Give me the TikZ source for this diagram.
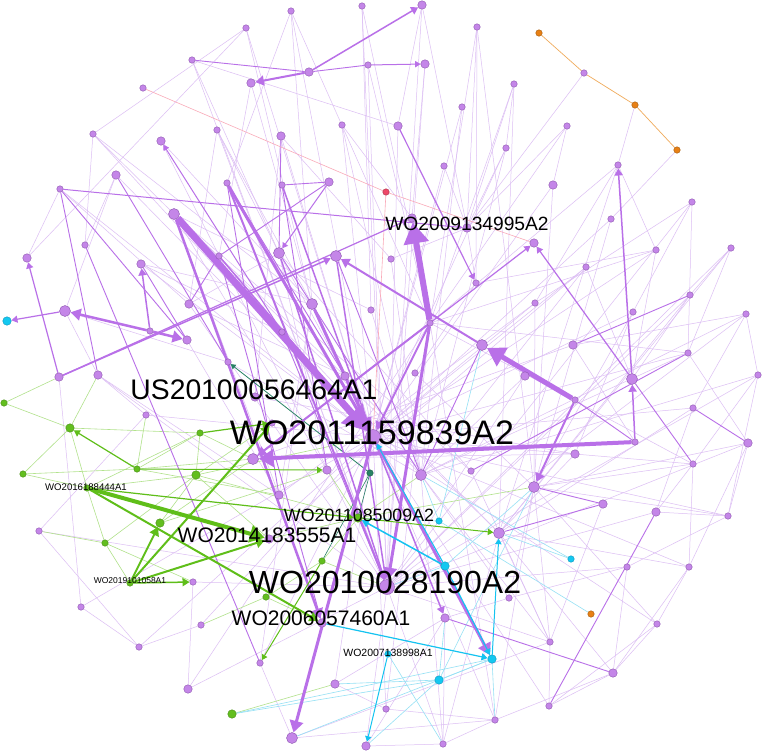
\documentclass[tikz,border=0pt]{standalone}
\usepackage{fontspec}
\newfontfamily\gephifont{Liberation Sans}
\usetikzlibrary{arrows.meta}
\definecolor{pfill}{RGB}{196,134,232}
\definecolor{pline}{RGB}{140,85,175}
\definecolor{gfill}{RGB}{98,190,30}
\definecolor{gline}{RGB}{70,140,20}
\definecolor{cfill}{RGB}{20,200,240}
\definecolor{cline}{RGB}{10,150,190}
\definecolor{ofill}{RGB}{232,128,20}
\definecolor{rfill}{RGB}{238,72,104}
\definecolor{tfill}{RGB}{40,130,100}
\definecolor{pedge}{RGB}{185,112,232}
\definecolor{pfaint}{RGB}{220,190,244}
\definecolor{gedge}{RGB}{95,190,25}
\definecolor{gfaint}{RGB}{178,226,140}
\definecolor{cedge}{RGB}{20,195,240}
\definecolor{cfaint}{RGB}{150,225,245}
\definecolor{oedge}{RGB}{240,170,90}
\definecolor{redge}{RGB}{250,170,185}
\pgfdeclarelayer{edges}
\pgfsetlayers{edges,main}
\tikzstyle{dot} = [circle, inner sep=0pt, line width=0.4pt]
\tikzstyle{pn} = [dot, fill=pfill, draw=pline]
\tikzstyle{gn} = [dot, fill=gfill, draw=gline]
\tikzstyle{cn} = [dot, fill=cfill, draw=cline]
\tikzstyle{on} = [dot, fill=ofill, draw=ofill!70!black]
\tikzstyle{rn} = [dot, fill=rfill, draw=rfill!70!black]
\tikzstyle{tn} = [dot, fill=tfill, draw=tfill!70!black]
\tikzstyle{sz1} = [minimum size=6.5pt]
\tikzstyle{sz2} = [minimum size=8.5pt]
\tikzstyle{sz3} = [minimum size=11pt]
\tikzstyle{sz4} = [minimum size=15pt]
\tikzstyle{faint} = [pfaint, line width=0.5pt]
\tikzstyle{mid} = [pedge, line width=0.9pt]
\tikzstyle{heavy} = [pedge, ->, >=Triangle]
\tikzstyle{gheavy} = [gedge, ->, >=Triangle]
\tikzstyle{cheavy} = [cedge, ->, >=Triangle]
\tikzstyle{tag} = [inner sep=0pt, text=black]
\begin{document}
\begin{tikzpicture}[x=1pt, y=-1pt]
    \useasboundingbox (0,0) rectangle (764,753);
    % purple nodes
    \node[pn,sz1] (p1) at (291,11) {}; \node[pn,sz1] (p2) at (362,6) {}; \node[pn,sz1] (p3) at (246,28) {};
    \node[pn,sz1] (p4) at (192,60) {}; \node[pn,sz2] (p5) at (309,72) {}; \node[pn,sz1] (p6) at (368,65) {};
    \node[pn,sz2] (p7) at (251,83) {}; \node[pn,sz1] (p8) at (143,88) {}; \node[pn,sz1] (p9) at (93,134) {};
    \node[pn,sz2] (p10) at (161,141) {}; \node[pn,sz1] (p11) at (217,130) {}; \node[pn,sz2] (p12) at (281,136) {};
    \node[pn,sz1] (p13) at (342,125) {}; \node[pn,sz2] (p14) at (116,175) {}; \node[pn,sz1] (p15) at (60,189) {};
    \node[pn,sz1] (p16) at (227,183) {}; \node[pn,sz1] (p17) at (282,185) {}; \node[pn,sz2] (p18) at (329,182) {};
    \node[pn,sz3] (p19) at (174,214) {}; \node[pn,sz1] (p20) at (85,245) {}; \node[pn,sz2] (p21) at (27,258) {};
    \node[pn,sz2] (p22) at (141,264) {}; \node[pn,sz1] (p23) at (219,256) {}; \node[pn,sz3] (p24) at (279,253) {};
    \node[pn,sz3] (p25) at (336,256) {}; \node[pn,sz3] (p26) at (65,311) {}; \node[pn,sz2] (p27) at (189,304) {};
    \node[pn,sz3] (p28) at (312,304) {}; \node[pn,sz1] (p29) at (371,310) {}; \node[pn,sz1] (p30) at (150,331) {};
    \node[pn,sz2] (p31) at (187,340) {}; \node[pn,sz1] (p32) at (282,332) {}; \node[pn,sz1] (p33) at (228,362) {};
    \node[pn,sz2] (p34) at (59,377) {}; \node[pn,sz2] (p35) at (98,375) {}; \node[pn,sz2] (p36) at (422,5) {};
    \node[pn,sz1] (p37) at (477,27) {}; \node[pn,sz2] (p38) at (425,64) {}; \node[pn,sz1] (p39) at (514,84) {};
    \node[pn,sz1] (p40) at (462,107) {}; \node[pn,sz2] (p41) at (398,126) {}; \node[pn,sz1] (p42) at (567,126) {};
    \node[pn,sz1] (p43) at (506,148) {}; \node[pn,sz1] (p44) at (444,166) {}; \node[pn,sz1] (p45) at (618,165) {};
    \node[pn,sz2] (p46) at (553,185) {}; \node[pn,sz1] (p47) at (692,202) {}; \node[pn,sz1] (p48) at (611,219) {};
    \node[pn,sz2] (p49) at (412,218) {}; \node[pn,sz2] (p50) at (467,228) {}; \node[pn,sz2] (p51) at (534,243) {};
    \node[pn,sz1] (p52) at (391,259) {}; \node[pn,sz1] (p53) at (656,250) {}; \node[pn,sz1] (p54) at (731,248) {};
    \node[pn,sz1] (p55) at (586,267) {}; \node[pn,sz1] (p56) at (476,283) {}; \node[pn,sz1] (p57) at (535,303) {};
    \node[pn,sz1] (p58) at (690,295) {}; \node[pn,sz1] (p59) at (633,312) {}; \node[pn,sz1] (p60) at (746,314) {};
    \node[pn,sz1] (p61) at (430,323) {}; \node[pn,sz3] (p62) at (482,345) {}; \node[pn,sz2] (p63) at (573,345) {};
    \node[pn,sz1] (p64) at (688,353) {}; \node[pn,sz2] (p65) at (525,376) {}; \node[pn,sz3] (p66) at (632,379) {};
    \node[pn,sz1] (p67) at (758,375) {}; \node[pn,sz1] (p68) at (575,400) {}; \node[pn,sz1] (p69) at (693,408) {};
    \node[pn,sz1] (p70) at (635,442) {}; \node[pn,sz2] (p71) at (748,443) {}; \node[pn,sz2] (p72) at (575,454) {};
    \node[pn,sz1] (p73) at (693,464) {}; \node[pn,sz3] (p74) at (421,475) {}; \node[pn,sz1] (p75) at (471,471) {};
    \node[pn,sz3] (p76) at (534,487) {}; \node[pn,sz2] (p77) at (603,504) {}; \node[pn,sz2] (p78) at (656,512) {};
    \node[pn,sz1] (p79) at (728,516) {}; \node[pn,sz3] (p80) at (499,533) {}; \node[pn,sz1] (p81) at (627,567) {};
    \node[pn,sz1] (p82) at (689,567) {}; \node[pn,sz1] (p83) at (509,598) {}; \node[pn,sz2] (p84) at (445,618) {};
    \node[pn,sz1] (p85) at (657,624) {}; \node[pn,sz1] (p86) at (550,642) {}; \node[pn,sz2] (p87) at (613,673) {};
    \node[pn,sz1] (p88) at (386,709) {}; \node[pn,sz1] (p89) at (549,706) {}; \node[pn,sz1] (p90) at (495,720) {};
    \node[pn,sz1] (p91) at (443,744) {}; \node[pn,sz2] (p92) at (345,376) {}; \node[pn,sz1] (p93) at (415,373) {};
    \node[pn,sz1] (p94) at (272,423) {}; \node[pn,sz3] (p98) at (253,459) {}; \node[pn,sz2] (p99) at (327,470) {};
    \node[pn,sz2] (p100) at (279,495) {}; \node[pn,sz1] (p101) at (146,415) {}; \node[pn,sz1] (p103) at (39,531) {};
    \node[pn,sz1] (p104) at (193,582) {}; \node[pn,sz1] (p106) at (81,607) {}; \node[pn,sz1] (p107) at (201,625) {};
    \node[pn,sz1] (p109) at (139,647) {}; \node[pn,sz1] (p110) at (260,663) {}; \node[pn,sz2] (p111) at (335,684) {};
    \node[pn,sz2] (p112) at (188,689) {}; \node[pn,sz3] (p113) at (292,738) {}; \node[pn,sz2] (p114) at (366,746) {};
    \node[pn,sz1] (p115) at (584,73) {};
    \node[pn,sz2] (us464) at (255,397) {};
    \node[pn,sz4] (wo159) at (373,437) {};
    \node[pn,sz2] (wo555) at (269,539) {};
    \node[pn,sz4] (wo028) at (387,587) {};
    \node[pn,sz2] (wo460) at (322,623) {};
    % green nodes
    \node[gn,sz1] (g1) at (4,403) {}; \node[gn,sz2] (g2) at (70,428) {}; \node[gn,sz1] (g3) at (200,433) {};
    \node[gn,sz1] (g4) at (23,474) {}; \node[gn,sz1] (g5) at (137,469) {}; \node[gn,sz2] (g6) at (196,475) {};
    \node[gn,sz2] (g8) at (160,523) {}; \node[gn,sz1] (g9) at (105,543) {}; \node[gn,sz1] (g11) at (322,561) {};
    \node[gn,sz1] (g13) at (266,597) {}; \node[gn,sz2] (g14) at (232,714) {};
    \node[gn,sz1] (wo444) at (87,488) {};
    \node[gn,sz2] (wo009) at (358,518) {};
    \node[gn,sz1] (wo058) at (130,583) {};
    % cyan, orange, red, teal nodes
    \node[cn,sz2] (c1) at (7,321) {}; \node[cn,sz1] (c2) at (439,521) {}; \node[cn,sz2] (c3) at (445,566) {};
    \node[cn,sz1] (c4) at (571,559) {}; \node[cn,sz2] (c5) at (492,659) {}; \node[cn,sz2] (c7) at (439,680) {};
    \node[cn,sz1] (wo998) at (388,654) {};
    \node[on,sz1] (o1) at (539,33) {}; \node[on,sz1] (o2) at (635,105) {};
    \node[on,sz1] (o3) at (677,150) {}; \node[on,sz1] (o4) at (591,614) {};
    \node[rn,sz1] (r1) at (386,192) {};
    \node[tn,sz1] (t1) at (370,473) {};

    \begin{pgfonlayer}{edges}
    \fill[white] (0,0) rectangle (764,753);
    % faint citations
    \foreach \a/\b in {wo159/p1, wo159/p3, wo159/p12, wo159/p13, wo159/p40, wo159/p44, wo159/p43,
        wo159/p46, wo159/p48, wo159/p53, wo159/p55, wo159/p57, wo159/p59, wo159/p64, wo159/p69,
        wo159/p73, wo159/p79, wo159/p82, wo159/p85, wo159/p89, wo159/p90, wo159/p88, wo159/p111,
        wo159/p110, wo159/p107, wo159/p106, wo159/p109, wo159/p101, wo159/p22, wo159/p14, wo159/p15,
        wo159/p9, wo028/p2, wo028/p6, wo028/p36, wo028/p38, wo028/p41, wo028/p47, wo028/p54,
        wo028/p58, wo028/p60, wo028/p67, wo028/p71, wo028/p78, wo028/p81, wo028/p86, wo028/p91,
        wo028/p114, wo028/p112, wo028/p104, wo028/p103, wo028/p35, wo028/p27, wo028/p11, wo028/p10,
        wo028/p4, p61/p1, p61/p2, p61/p6, p61/p37, p61/p39, p61/p42, p61/p45, p61/p53, p61/p64,
        p61/p73, p61/p88, p61/p90, p61/p112, p74/p13, p74/p40, p74/p43, p74/p55, p74/p60, p74/p64,
        p74/p67, p74/p83, p74/p86, p74/p91, p76/p37, p76/p46, p76/p48, p76/p57, p76/p59, p76/p71,
        p76/p73, p76/p79, p76/p85, p76/p86, p76/p90, p76/p83, p80/p39, p80/p45, p80/p54, p80/p58,
        p80/p69, p80/p82, p80/p87, p80/p91, p80/p86, p28/p1, p28/p3, p28/p7, p28/p11, p28/p9,
        p28/p22, p28/p10, p28/p100, p28/p110, p24/p4, p24/p11, p24/p27, p24/p92, p24/p99, p24/p75,
        p19/p99, p19/p74, p19/p100, p19/p92, p19/p29, p19/p80, p19/p75, p19/p9, p50/p37, p50/p39,
        p50/p42, p50/p43, p50/p44, p50/p36, p50/p56, p50/p52, p21/p3, p21/p15, p20/p14, p14/p26,
        p26/p35, p109/p106, p112/p104, p107/p109, p111/p88, p114/p91, p113/p90, p113/p86, p88/p90,
        p110/p113, p67/p73, p60/p63, p47/p64, p53/p56, p45/p57, p3/p9, p4/p41, p15/p27, p34/p106,
        p101/p35, p101/p103, p103/p109, p82/p85, p81/p87, p85/p87, p73/p82, p79/p78, p71/p79,
        p64/p71, p67/p79, p60/p69, p54/p58, p47/p59, p45/p53, p42/p46, p39/p43, p38/p49, p1/p16,
        p2/p29, p36/p41, p37/p56, p12/p52, p13/p49, p11/p27, p7/p23, p9/p20, p26/p33, p22/p32,
        p27/p92, p33/p74, p35/p100, p31/p100, p92/p80, p93/p76, p93/p56, p29/p74, p52/p74, p75/p86,
        p83/p84, p84/p91, p84/p114, p111/p84, p87/p89, p86/p89, p90/p91, o3/p48, o2/p45, p115/p50,
        p65/p74, p72/p80, p72/p98, p63/p98, p65/wo028, p57/p100, p55/wo555, us464/p12, us464/p72,
        p53/p66, p55/p66, p59/p72, p63/p70, p47/p57, p54/p64, p60/p67, p58/p66, p69/p78, p73/p78,
        p71/p82, p79/p81, p85/p89, p82/p87, p81/p83, p77/p86, p87/p90}
        \draw[faint] (\a) -- (\b);
    \foreach \a/\b in {g1/g2, g1/p34, g2/wo444, g2/g4, g4/g5, g4/wo444, wo444/g9, g9/g6, g9/p103,
        g5/g3, g3/g6, g6/wo009, g6/wo555, wo444/g6, g8/g6, wo444/g3, g2/p35, g6/wo159, wo058/g9,
        g13/wo460, g13/g11, g11/wo009, wo009/p74, g14/p111, g3/p98, g5/p98, g8/p98, g9/p104, g2/g3,
        g6/p94, wo555/wo009, g13/p107, g11/wo028, wo009/p76, wo009/p99, g5/p100, p101/g5, g8/p99}
        \draw[gfaint, line width=0.6pt] (\a) -- (\b);
    \foreach \a/\b in {c2/wo009, c2/p74, c3/wo159, c3/p76, c4/p74, o4/c2, c5/p113, c7/c5, c7/p111,
        g14/c5, c7/p76, c3/wo028, c7/p84, c4/p80, c5/p90, c7/p114, wo998/p91, c2/p62, g14/c7}
        \draw[cfaint, line width=0.6pt] (\a) -- (\b);
    \foreach \a/\b in {p4/p5, p5/p6, p15/p35, p15/p31, p18/p23, p18/p17, p69/p71, p66/p73, p70/p68,
        p58/p63, p78/p89, p84/p87, p76/p77, p77/p80, p17/p99, p16/p100, p24/p74, p12/p24, p25/p74,
        p62/p74, p14/p33, p20/p110, p22/p31, p27/p23, p32/wo028, p23/wo460, p64/p75, p16/p92}
        \draw[mid] (\a) -- (\b);
    \draw[redge, line width=0.6pt] (p8) -- (r1);
    \draw[redge, line width=0.6pt] (r1) -- (p51);
    \draw[redge, line width=0.6pt] (r1) -- (wo159);
    \draw[oedge, line width=0.7pt] (o1) -- (p115) -- (o2) -- (o3);
    \draw[tfill, line width=0.8pt, ->, >=Triangle] (t1) -- (p33);
    \draw[tfill, line width=0.6pt] (t1) -- (g11);
    \draw[tfill, line width=0.6pt] (t1) -- (wo009);
    % strong citations
    \draw[heavy, line width=7pt] (p19) -- (wo159);
    \draw[heavy, line width=6pt] (p61) -- (p49);
    \draw[heavy, line width=5pt] (p68) -- (p62);
    \draw[heavy, line width=4pt] (p70) -- (p98);
    \draw[heavy, line width=3pt] (p16) -- (wo159);
    \draw[heavy, line width=3pt] (p28) -- (wo159);
    \draw[heavy, line width=3pt] (wo159) -- (p113);
    \draw[heavy, line width=3pt] (wo159) -- (c5);
    \draw[heavy, line width=3pt] (p61) -- (wo028);
    \draw[heavy, line width=2.5pt] (p19) -- (wo460);
    \draw[heavy, line width=2.5pt] (p30) -- (p26);
    \draw[heavy, line width=2.5pt] (p30) -- (p31);
    \draw[heavy, line width=2pt] (p62) -- (p25);
    \draw[heavy, line width=2pt] (p61) -- (p98);
    \draw[heavy, line width=2pt] (p16) -- (wo028);
    \draw[heavy, line width=2pt] (p68) -- (p76);
    \draw[heavy, line width=2pt] (p5) -- (p7);
    \draw[heavy, line width=2pt] (p61) -- (wo159);
    \draw[heavy, line width=1.5pt] (p5) -- (p36);
    \draw[heavy, line width=1.5pt] (p34) -- (p25);
    \draw[heavy, line width=1.5pt] (p30) -- (p22);
    \draw[heavy, line width=1.5pt] (p70) -- (p66);
    \draw[heavy, line width=1.5pt] (p66) -- (p45);
    \draw[heavy, line width=1.5pt] (p23) -- (wo159);
    \draw[heavy, line width=1.5pt] (p17) -- (wo159);
    \draw[heavy, line width=1.5pt] (p24) -- (wo028);
    \draw[heavy, line width=1.5pt] (p25) -- (wo028);
    \draw[heavy, line width=1.5pt] (wo159) -- (p84);
    \draw[heavy, line width=1.2pt] (p34) -- (p49);
    \draw[heavy, line width=1.2pt] (p34) -- (p21);
    \draw[heavy, line width=1.2pt] (p26) -- (c1);
    \draw[heavy, line width=1.2pt] (p66) -- (p51);
    \draw[heavy, line width=1.2pt] (p98) -- (p51);
    \draw[heavy, line width=1.2pt] (p41) -- (p56);
    \draw[heavy, line width=1pt] (p6) -- (p38);
    \draw[heavy, line width=1pt] (p15) -- (p50);
    \draw[heavy, line width=1pt] (p18) -- (p24);
    \draw[heavy, line width=1pt] (p32) -- (p10);
    % green citations
    \draw[gheavy, line width=4pt] (wo444) -- (wo555);
    \draw[gheavy, line width=2pt] (wo444) -- (wo460);
    \draw[gheavy, line width=1.2pt] (wo444) -- (wo009);
    \draw[gheavy, line width=2pt] (wo058) -- (g8);
    \draw[gheavy, line width=2pt] (wo058) -- (wo555);
    \draw[gheavy, line width=2pt] (wo058) -- (p94);
    \draw[gheavy, line width=1.5pt] (wo058) -- (p104);
    \draw[gheavy, line width=1.2pt] (g5) -- (g2);
    \draw[gheavy, line width=1pt] (g5) -- (p99);
    \draw[gheavy, line width=1.2pt] (g3) -- (p94);
    \draw[gheavy, line width=1pt] (g11) -- (p110);
    \draw[gheavy, line width=1pt] (wo009) -- (p80);
    % cyan citations
    \draw[cheavy, line width=1.5pt] (c3) -- (wo009);
    \draw[cheavy, line width=1.2pt] (c3) -- (c5);
    \draw[cheavy, line width=1.2pt] (wo460) -- (c5);
    \draw[cheavy, line width=1pt] (wo998) -- (p114);
    \draw[cheavy, line width=1pt] (c5) -- (p80);
    \draw[cheavy, line width=1pt] (c3) -- (wo159);
    \end{pgfonlayer}

    % patent labels
    \node[tag, font=\gephifont\fontsize{34}{34}\selectfont] (t159) at (372,433) {WO2011159839A2};
    \node[tag, font=\gephifont\fontsize{32}{32}\selectfont] (t028) at (385,582) {WO2010028190A2};
    \node[tag, font=\gephifont\fontsize{28.3}{28}\selectfont] (t464) at (254,390) {US20100056464A1};
    \node[tag, font=\gephifont\fontsize{21}{21}\selectfont] (t555) at (267,535) {WO2014183555A1};
    \node[tag, font=\gephifont\fontsize{21}{21}\selectfont] (t460) at (321,618) {WO2006057460A1};
    \node[tag, font=\gephifont\fontsize{19.2}{19}\selectfont] (t995) at (467,224) {WO2009134995A2};
    \node[tag, font=\gephifont\fontsize{17.8}{18}\selectfont] (t009) at (359,515) {WO2011085009A2};
    \node[tag, font=\gephifont\fontsize{10.5}{11}\selectfont] (t998) at (388,653) {WO2007138998A1};
    \node[tag, font=\gephifont\fontsize{9.6}{10}\selectfont] (t444) at (86,487) {WO2016188444A1};
    \node[tag, font=\gephifont\fontsize{8.5}{9}\selectfont] (t058) at (130,581) {WO2019101058A1};
\end{tikzpicture}
\end{document}
